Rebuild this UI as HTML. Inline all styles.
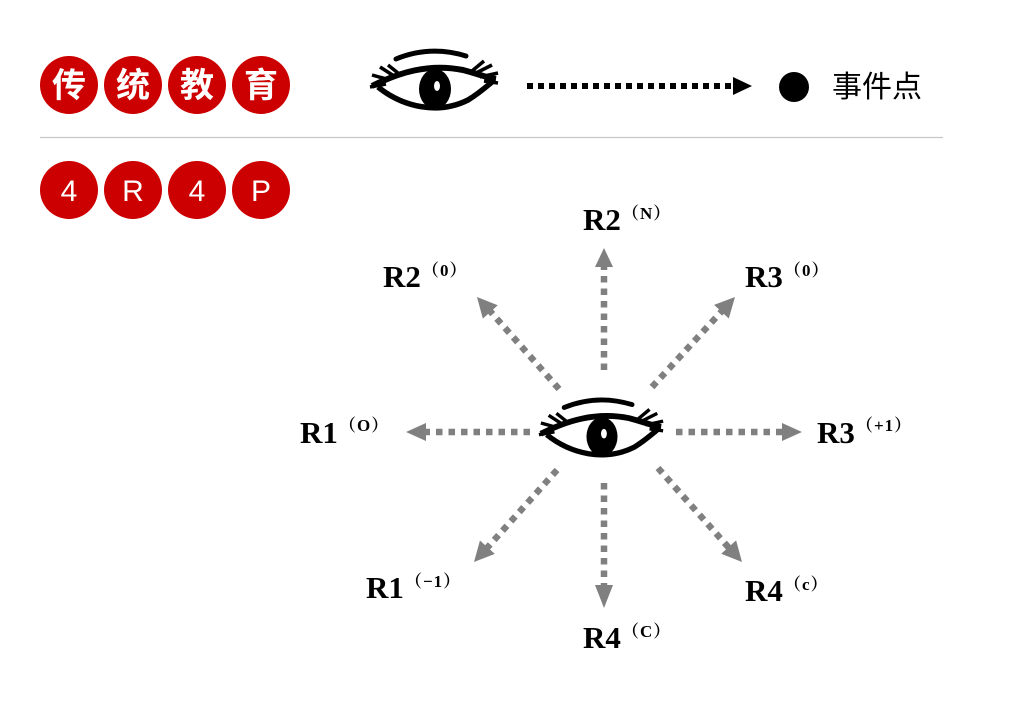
<!DOCTYPE html>
<html><head><meta charset="utf-8"><style>
html,body{margin:0;padding:0;background:#fff;width:1016px;height:728px;overflow:hidden}
svg{display:block}
.lbl{font-family:"Liberation Serif",serif;font-weight:bold;font-size:31px;fill:#000}
.sup{font-family:"Liberation Serif","Noto Serif CJK SC",serif;font-weight:bold;font-size:17px;fill:#000;letter-spacing:1px}
.cn{font-family:"Liberation Sans","Noto Sans CJK SC",sans-serif;font-weight:bold;font-size:34px;fill:#fff}
.en{font-family:"Liberation Sans",sans-serif;font-size:30px;fill:#fff}
</style></head><body>
<svg width="1016" height="728" viewBox="0 0 1016 728" xmlns="http://www.w3.org/2000/svg">
<defs>
<g id="eye">
  <path d="M28,16 Q62,2 98,13" fill="none" stroke="#000" stroke-width="5" stroke-linecap="round"/>
  <path d="M4,43 C30,30 60,20 95,27 C110,31 120,35 128,36" fill="none" stroke="#000" stroke-width="6"/>
  <path d="M10,44 C35,64 70,72 100,57 C110,51 118,44 124,39" fill="none" stroke="#000" stroke-width="5.5"/>
  <path d="M22,37 L4,32 M26,33 L12,24 M30,30 L20,22 M18,41 L2,44" stroke="#000" stroke-width="3.5" fill="none"/>
  <path d="M108,30 L124,22 M112,34 L130,30 M116,38 L130,40 M104,28 L116,18" stroke="#000" stroke-width="3.5" fill="none"/>
  <ellipse cx="67" cy="46" rx="16" ry="20" fill="#000"/>
  <ellipse cx="69" cy="43" rx="3" ry="5" fill="#fff"/>
</g>
</defs>

<circle cx="69" cy="85" r="29" fill="#cc0000"/><text x="69" y="97" text-anchor="middle" class="cn">传</text>
<circle cx="133" cy="85" r="29" fill="#cc0000"/><text x="133" y="97" text-anchor="middle" class="cn">统</text>
<circle cx="197" cy="85" r="29" fill="#cc0000"/><text x="197" y="97" text-anchor="middle" class="cn">教</text>
<circle cx="261" cy="85" r="29" fill="#cc0000"/><text x="261" y="97" text-anchor="middle" class="cn">育</text>

<line x1="40" y1="137.5" x2="943" y2="137.5" stroke="#c8c8c8" stroke-width="1.3"/>

<circle cx="69" cy="190" r="29" fill="#cc0000"/><text x="69" y="201" text-anchor="middle" class="en">4</text>
<circle cx="133" cy="190" r="29" fill="#cc0000"/><text x="133" y="201" text-anchor="middle" class="en">R</text>
<circle cx="197" cy="190" r="29" fill="#cc0000"/><text x="197" y="201" text-anchor="middle" class="en">4</text>
<circle cx="261" cy="190" r="29" fill="#cc0000"/><text x="261" y="201" text-anchor="middle" class="en">P</text>

<use href="#eye" transform="translate(368,43)"/>
<line x1="527" y1="86" x2="734" y2="86" stroke="#000" stroke-width="6" stroke-dasharray="6 5"/>
<path d="M733,77 L752,86 L733,95 z" fill="#000"/>
<circle cx="794" cy="87" r="15" fill="#000"/>
<text x="832" y="97" font-family="'Liberation Sans','Noto Sans CJK SC',sans-serif" font-size="30" fill="#000">事件点</text>

<use href="#eye" transform="translate(537,392) scale(0.97)"/>

<g stroke="#808080" stroke-width="6.5" stroke-dasharray="6.5 6" fill="none">
  <line x1="604" y1="370" x2="604" y2="266"/>
  <line x1="604" y1="483" x2="604" y2="586"/>
  <line x1="530" y1="432" x2="425" y2="432"/>
  <line x1="676" y1="432" x2="782" y2="432"/>
  <line x1="559" y1="389" x2="490" y2="311"/>
  <line x1="652" y1="387" x2="722" y2="311"/>
  <line x1="557" y1="470" x2="487" y2="548"/>
  <line x1="658" y1="468" x2="729" y2="548"/>
</g>
<g fill="#808080">
  <path d="M604,248 L613,267 L595,267 z"/>
  <path d="M604,608 L613,585 L595,585 z"/>
  <path d="M406,432 L426,423 L426,441 z"/>
  <path d="M802,432 L782,423 L782,441 z"/>
  <path transform="rotate(-131.7 477 297)" d="M477,297 L457,287 L457,307 z"/>
  <path transform="rotate(-47.3 735 297)" d="M735,297 L715,287 L715,307 z"/>
  <path transform="rotate(132 474 562)" d="M474,562 L454,552 L454,572 z"/>
  <path transform="rotate(48.2 742 562)" d="M742,562 L722,552 L722,572 z"/>
</g>

<text x="583" y="230" class="lbl">R2</text><text x="622" y="219" class="sup">（N）</text>
<text x="383" y="287" class="lbl">R2</text><text x="422" y="276" class="sup">（0）</text>
<text x="745" y="287" class="lbl">R3</text><text x="784" y="276" class="sup">（0）</text>
<text x="300" y="443" class="lbl">R1</text><text x="339" y="431" class="sup">（O）</text>
<text x="817" y="443" class="lbl">R3</text><text x="856" y="431" class="sup">（+1）</text>
<text x="366" y="598" class="lbl">R1</text><text x="405" y="587" class="sup">（−1）</text>
<text x="745" y="601" class="lbl">R4</text><text x="784" y="590" class="sup">（c）</text>
<text x="583" y="648" class="lbl">R4</text><text x="622" y="637" class="sup">（C）</text>
</svg>
</body></html>
